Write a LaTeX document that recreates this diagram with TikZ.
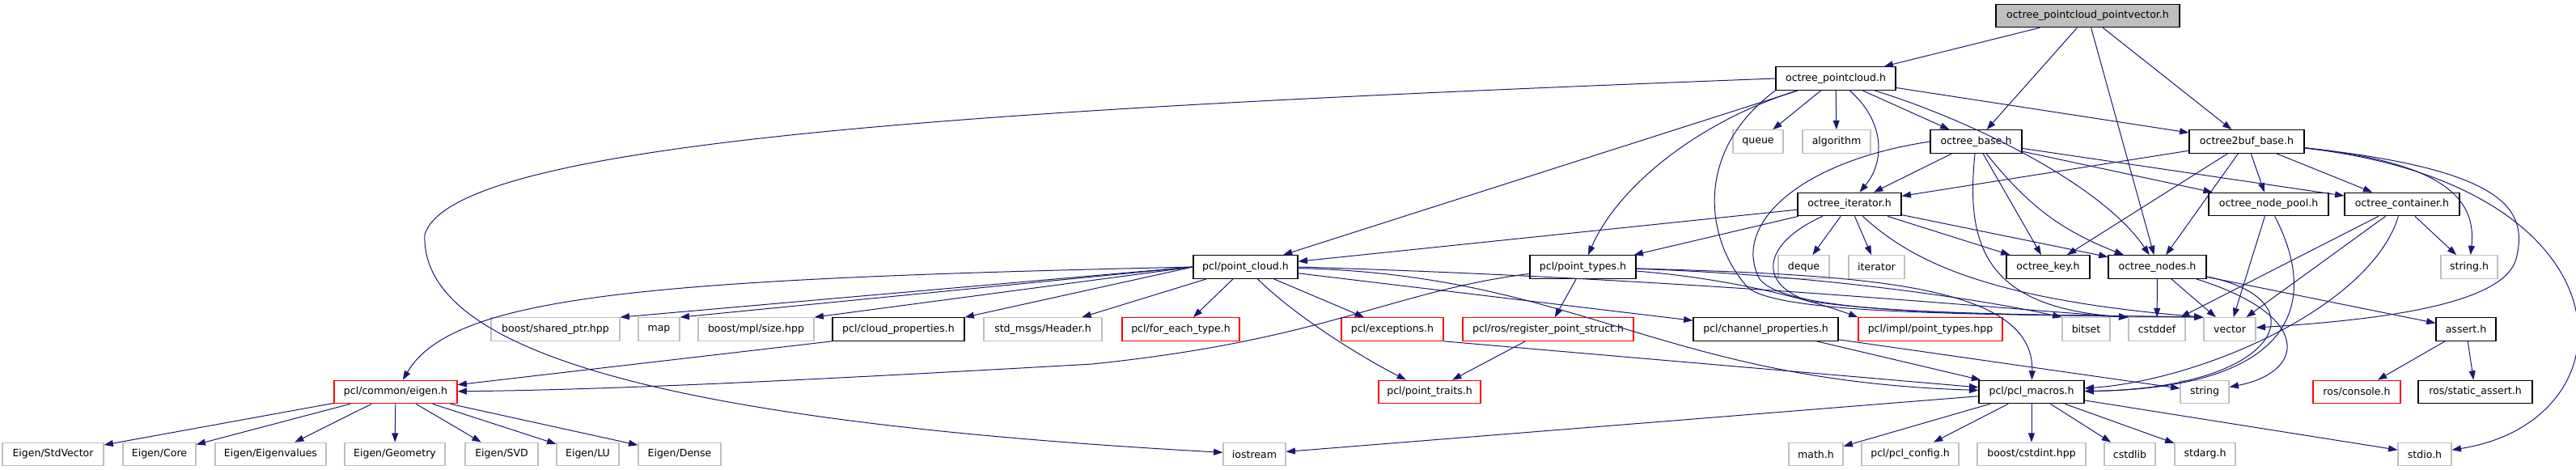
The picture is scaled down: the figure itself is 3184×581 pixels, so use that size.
\documentclass[tikz,border=0pt]{standalone}
\usepackage{fontspec}
\setmainfont{DejaVu Sans}
\usetikzlibrary{arrows.meta}
\definecolor{edgeblue}{RGB}{25,25,112}
\definecolor{sysgray}{RGB}{191,191,191}
\definecolor{rootgray}{RGB}{191,191,191}

\tikzset{
  hfile/.style={draw=black, rectangle, line width=0.9pt, inner sep=0pt,
    minimum height=28.5*0.75pt, font=\fontsize{9.4}{11}\selectfont},
  sysfile/.style={hfile, draw=sysgray},
  badfile/.style={hfile, draw=red},
  boxw/.style={minimum width=#1*0.75pt},
  incl/.style={draw=edgeblue, line width=0.75pt, -{Triangle[length=8.5pt, width=6pt]}},
}

\begin{document}
\begin{tikzpicture}[x=0.75pt, y=-0.75pt]
	\useasboundingbox (0,0) rectangle (3184,581);

	\node[hfile, fill=rootgray, boxw=227] (pointvector) at (2580.5,19.5) {octree\_pointcloud\_pointvector.h};

	\node[hfile, boxw=148] (ocloud) at (2269,97) {octree\_pointcloud.h};

	\node[sysfile, boxw=62] (queue) at (2173,175) {queue};
	\node[sysfile, boxw=84] (algorithm) at (2270,175) {algorithm};
	\node[hfile, boxw=113] (obase) at (2442.5,175) {octree\_base.h};
	\node[hfile, boxw=142] (obuf) at (2777,175) {octree2buf\_base.h};

	\node[hfile, boxw=128] (oiter) at (2286,252.5) {octree\_iterator.h};
	\node[hfile, boxw=148] (opool) at (2804,252.5) {octree\_node\_pool.h};
	\node[hfile, boxw=142] (ocont) at (2969,252.5) {octree\_container.h};

	\node[hfile, boxw=129] (pcloud) at (1539.5,330) {pcl/point\_cloud.h};
	\node[hfile, boxw=131] (ptypes) at (1956.5,330) {pcl/point\_types.h};
	\node[sysfile, boxw=63] (deque) at (2229.5,330) {deque};
	\node[sysfile, boxw=69] (iterator) at (2319.5,330) {iterator};
	\node[hfile, boxw=103] (okey) at (2531.5,330) {octree\_key.h};
	\node[hfile, boxw=121] (onodes) at (2666.5,330) {octree\_nodes.h};
	\node[sysfile, boxw=70] (stringh) at (3052,330) {string.h};

	\node[sysfile, boxw=159] (sharedptr) at (686.5,407) {boost/shared\_ptr.hpp};
	\node[sysfile, boxw=51] (map) at (814.5,407) {map};
	\node[sysfile, boxw=143] (mplsize) at (934.5,407) {boost/mpl/size.hpp};
	\node[hfile, boxw=163] (cloudprop) at (1110.5,407) {pcl/cloud\_properties.h};
	\node[sysfile, boxw=146] (header) at (1289,407) {std\_msgs/Header.h};
	\node[badfile, boxw=145] (foreach) at (1459.5,407) {pcl/for\_each\_type.h};
	\node[badfile, boxw=126] (except) at (1721,407) {pcl/exceptions.h};
	\node[badfile, boxw=211] (regstruct) at (1913.5,407) {pcl/ros/register\_point\_struct.h};
	\node[hfile, boxw=179] (chanprop) at (2182.5,407) {pcl/channel\_properties.h};
	\node[badfile, boxw=178] (implpt) at (2386,407) {pcl/impl/point\_types.hpp};
	\node[sysfile, boxw=59] (bitset) at (2578.5,407) {bitset};
	\node[sysfile, boxw=70] (cstddef) at (2666,407) {cstddef};
	\node[sysfile, boxw=64] (vector) at (2756,407) {vector};
	\node[hfile, boxw=74] (asserth) at (3048,407) {assert.h};

	\node[badfile, boxw=152] (eigen) at (489,484.5) {pcl/common/eigen.h};
	\node[badfile, boxw=126] (ptraits) at (1767,484.5) {pcl/point\_traits.h};
	\node[hfile, boxw=130] (macros) at (2511,484.5) {pcl/pcl\_macros.h};
	\node[sysfile, boxw=60] (string) at (2725,484.5) {string};
	\node[badfile, boxw=108] (console) at (2913,484.5) {ros/console.h};
	\node[hfile, boxw=141] (sassert) at (3059.5,484.5) {ros/static\_assert.h};

	\node[sysfile, boxw=125] (stdvector) at (65.5,561.5) {Eigen/StdVector};
	\node[sysfile, boxw=90] (core) at (197,561.5) {Eigen/Core};
	\node[sysfile, boxw=137] (eigenvalues) at (334.5,561.5) {Eigen/Eigenvalues};
	\node[sysfile, boxw=124] (geometry) at (488,561.5) {Eigen/Geometry};
	\node[sysfile, boxw=90] (svd) at (620,561.5) {Eigen/SVD};
	\node[sysfile, boxw=77] (lu) at (726.5,561.5) {Eigen/LU};
	\node[sysfile, boxw=102] (dense) at (840,561.5) {Eigen/Dense};
	\node[sysfile, boxw=77] (iostream) at (1550.5,561.5) {iostream};
	\node[sysfile, boxw=67] (mathh) at (2244.5,561.5) {math.h};
	\node[sysfile, boxw=120] (config) at (2361,561.5) {pcl/pcl\_config.h};
	\node[sysfile, boxw=134] (cstdint) at (2511,561.5) {boost/cstdint.hpp};
	\node[sysfile, boxw=63] (cstdlib) at (2632.5,561.5) {cstdlib};
	\node[sysfile, boxw=75] (stdarg) at (2725.5,561.5) {stdarg.h};
	\node[sysfile, boxw=66] (stdio) at (2997,561.5) {stdio.h};

	\draw[incl] (pointvector) -- (ocloud);
	\draw[incl] (pointvector) -- (obase);
	\draw[incl] (pointvector) -- (onodes);
	\draw[incl] (pointvector) -- (obuf);

	\draw[incl] (ocloud) -- (queue);
	\draw[incl] (ocloud) -- (algorithm);
	\draw[incl] (ocloud) -- (obase);
	\draw[incl] (ocloud) -- (obuf);
	\draw[incl] (ocloud) .. controls (2330,150) and (2330,200) .. (oiter);
	\draw[incl] (ocloud) .. controls (2440,150) and (2600,230) .. (onodes);
	\draw[incl] (ocloud) -- (pcloud);
	\draw[incl] (ocloud) .. controls (2100,150) and (2000,230) .. (ptypes);
	\draw[incl] (ocloud.south west) .. controls (2090,190) and (2110,300) .. (2160,355) .. controls (2200,392) and (2500,388) .. (vector.north west);
	\draw[incl] (ocloud.west) .. controls (1200,135) and (560,175) .. (525,290) .. controls (520,430) and (800,520) .. (iostream);

	\draw[incl] (obase) -- (oiter);
	\draw[incl] (obase) -- (okey);
	\draw[incl] (obase) to[bend right=15] (onodes);
	\draw[incl] (obase) -- (opool);
	\draw[incl] (obase) -- (ocont);
	\draw[incl] (obase) .. controls (2430,300) and (2450,380) .. (cstddef.north west);
	\draw[incl] (obase.west) .. controls (2220,200) and (2140,280) .. (2175,345) .. controls (2210,390) and (2450,388) .. (vector.north west);

	\draw[incl] (obuf) -- (oiter);
	\draw[incl] (obuf) -- (okey);
	\draw[incl] (obuf) -- (onodes);
	\draw[incl] (obuf) -- (opool);
	\draw[incl] (obuf) -- (ocont);
	\draw[incl] (obuf) .. controls (3010,200) and (3062,240) .. (stringh);
	\draw[incl] (obuf) .. controls (3100,210) and (3125,260) .. (3110,320) .. controls (3095,375) and (2950,395) .. (vector);
	\draw[incl] (obuf) .. controls (3260,230) and (3260,520) .. (stdio);

	\draw[incl] (oiter) -- (pcloud);
	\draw[incl] (oiter) -- (ptypes);
	\draw[incl] (oiter) -- (deque);
	\draw[incl] (oiter) -- (iterator);
	\draw[incl] (oiter) -- (okey);
	\draw[incl] (oiter) -- (onodes);
	\draw[incl] (oiter) .. controls (2180,300) and (2170,350) .. (2235,372) .. controls (2350,390) and (2550,388) .. (cstddef.north west);
	\draw[incl] (oiter) .. controls (2360,320) and (2450,370) .. (vector.north west);

	\draw[incl] (opool) -- (vector);
	\draw[incl] (opool) .. controls (2870,380) and (2830,480) .. (macros);

	\draw[incl] (ocont) -- (stringh);
	\draw[incl] (ocont) -- (cstddef);
	\draw[incl] (ocont) -- (vector);
	\draw[incl] (ocont) .. controls (2930,380) and (2720,470) .. (macros);

	\draw[incl] (onodes) -- (cstddef);
	\draw[incl] (onodes) -- (vector);
	\draw[incl] (onodes) -- (asserth);
	\draw[incl] (onodes) .. controls (2870,370) and (2820,480) .. (macros);
	\draw[incl] (onodes) .. controls (2860,390) and (2850,460) .. (string);

	\draw[incl] (asserth) -- (console);
	\draw[incl] (asserth) -- (sassert);

	\draw[incl] (pcloud.west) .. controls (800,345) and (560,365) .. (eigen);
	\draw[incl] (pcloud.west) -- (sharedptr.north east);
	\draw[incl] (pcloud.west) -- (map.north east);
	\draw[incl] (pcloud.west) -- (mplsize.north east);
	\draw[incl] (pcloud.west) -- (cloudprop.north east);
	\draw[incl] (pcloud) -- (header);
	\draw[incl] (pcloud) -- (foreach);
	\draw[incl] (pcloud) -- (except);
	\draw[incl] (pcloud) .. controls (1600,390) and (1680,440) .. (ptraits);
	\draw[incl] (pcloud) -- (chanprop);
	\draw[incl] (pcloud) .. controls (1950,340) and (2050,470) .. (macros);
	\draw[incl] (pcloud.east) .. controls (2100,345) and (2450,380) .. (cstddef.north west);

	\draw[incl] (ptypes) -- (regstruct);
	\draw[incl] (ptypes) .. controls (1720,360) and (1640,420) .. (1350,450) .. controls (1000,470) and (750,482) .. (eigen);
	\draw[incl] (ptypes) .. controls (2150,345) and (2250,375) .. (implpt.north west);
	\draw[incl] (ptypes) .. controls (2250,340) and (2450,370) .. (bitset.north west);
	\draw[incl] (ptypes) .. controls (2300,340) and (2515,350) .. (macros);

	\draw[incl] (except.south east) -- (macros);
	\draw[incl] (regstruct) -- (ptraits);
	\draw[incl] (cloudprop.south west) -- (eigen);
	\draw[incl] (chanprop) -- (macros);
	\draw[incl] (chanprop) -- (string);

	\draw[incl] (eigen) -- (stdvector);
	\draw[incl] (eigen) -- (core);
	\draw[incl] (eigen) -- (eigenvalues);
	\draw[incl] (eigen) -- (geometry);
	\draw[incl] (eigen) -- (svd);
	\draw[incl] (eigen) -- (lu);
	\draw[incl] (eigen) -- (dense);

	\draw[incl] (macros) -- (iostream);
	\draw[incl] (macros) -- (mathh);
	\draw[incl] (macros) -- (config);
	\draw[incl] (macros) -- (cstdint);
	\draw[incl] (macros) -- (cstdlib);
	\draw[incl] (macros) -- (stdarg);
	\draw[incl] (macros) -- (stdio);
\end{tikzpicture}
\end{document}
